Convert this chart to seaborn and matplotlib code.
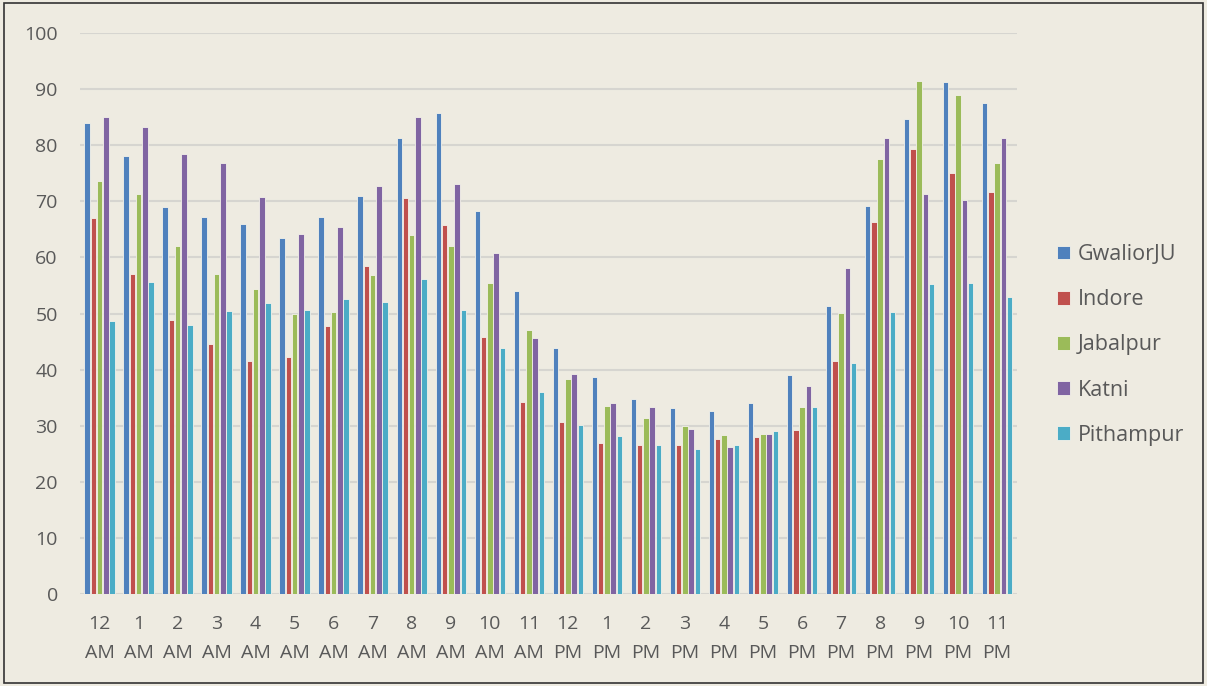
import numpy as np
import pandas as pd
import matplotlib
matplotlib.use("Agg")
import matplotlib.pyplot as plt
import seaborn as sns
from matplotlib.patches import Rectangle

hours = ["12\nAM", "1\nAM", "2\nAM", "3\nAM", "4\nAM", "5\nAM", "6\nAM", "7\nAM",
         "8\nAM", "9\nAM", "10\nAM", "11\nAM", "12\nPM", "1\nPM", "2\nPM", "3\nPM",
         "4\nPM", "5\nPM", "6\nPM", "7\nPM", "8\nPM", "9\nPM", "10\nPM", "11\nPM"]

gwalior = [84.0, 78.0, 69.0, 67.2, 66.0, 63.5, 67.2, 71.0, 81.3, 85.8, 68.2, 54.0,
           43.8, 38.6, 34.7, 33.1, 32.6, 34.1, 39.0, 51.3, 69.2, 84.7, 91.3, 87.6]
indore = [67.0, 57.0, 48.8, 44.6, 41.6, 42.3, 47.8, 58.4, 70.6, 65.8, 45.8, 34.3,
          30.6, 27.0, 26.5, 26.5, 27.7, 28.0, 29.2, 41.5, 66.3, 79.3, 75.0, 71.7]
jabalpur = [73.6, 71.3, 62.0, 57.0, 54.3, 50.0, 50.3, 56.8, 64.0, 62.1, 55.4, 47.0,
            38.3, 33.5, 31.3, 29.9, 28.4, 28.6, 33.4, 50.1, 77.5, 91.4, 88.9, 76.8]
katni = [85.0, 83.3, 78.5, 76.8, 70.8, 64.2, 65.4, 72.8, 85.0, 73.1, 60.8, 45.6,
         39.3, 34.0, 33.3, 29.4, 26.2, 28.6, 37.1, 58.1, 81.3, 71.3, 70.2, 81.3]
pithampur = [48.7, 55.7, 48.0, 50.4, 51.8, 50.6, 52.5, 52.0, 56.2, 50.7, 43.8, 36.1,
             30.1, 28.2, 26.6, 25.9, 26.6, 29.1, 33.3, 41.1, 50.2, 55.3, 55.5, 53.0]

series_names = ["GwaliorJU", "Indore", "Jabalpur", "Katni", "Pithampur"]
series_values = [gwalior, indore, jabalpur, katni, pithampur]
colors = ["#4F81BD", "#C0504D", "#9BBB59", "#8064A2", "#4BACC6"]

rows = []
for name, vals in zip(series_names, series_values):
    for h, v in zip(hours, vals):
        rows.append({"hour": h, "site": name, "value": v})
df = pd.DataFrame(rows)

bg = "#EEEBE1"
text_col = "#595959"

sns.set_theme(style="white")
plt.rcParams["font.family"] = ["Open Sans", "DejaVu Sans"]

fig = plt.figure(figsize=(12.07, 6.86), dpi=100, facecolor=bg)
ax = fig.add_axes([0.0663, 0.134, 0.776, 0.818])
ax.set_facecolor(bg)

sns.barplot(data=df, x="hour", y="value", hue="site", order=hours,
            hue_order=series_names, palette=colors, width=0.8, gap=0.12,
            saturation=1, edgecolor="#F4F2EA", linewidth=0.6, ax=ax,
            errorbar=None, zorder=3)

ax.set_ylim(0, 100)
ax.set_yticks(range(0, 101, 10))
ax.set_xlim(-0.5, len(hours) - 0.5)
ax.grid(axis="y", color="#D6D5D0", linewidth=1.5, zorder=0)
ax.set_axisbelow(True)
for s in ax.spines.values():
    s.set_visible(False)
ax.tick_params(axis="both", length=0, labelsize=14, colors=text_col)
ax.tick_params(axis="x", pad=15)
ax.tick_params(axis="y", pad=16)
for lbl in ax.get_xticklabels():
    lbl.set_linespacing(1.8)
ax.set_xlabel("")
ax.set_ylabel("")

handles, labels = ax.get_legend_handles_labels()
ax.legend(handles, labels, loc="center left", bbox_to_anchor=(1.022, 0.444),
          frameon=False, fontsize=15.5, labelcolor=text_col, handlelength=0.6,
          handleheight=0.6, handletextpad=0.4, labelspacing=1.12)

fig.patches.append(Rectangle((0.003, 0.005), 0.994, 0.99, transform=fig.transFigure,
                             fill=False, edgecolor="#333333", linewidth=1.2))

fig.savefig("out.png", dpi=100, facecolor=bg)
